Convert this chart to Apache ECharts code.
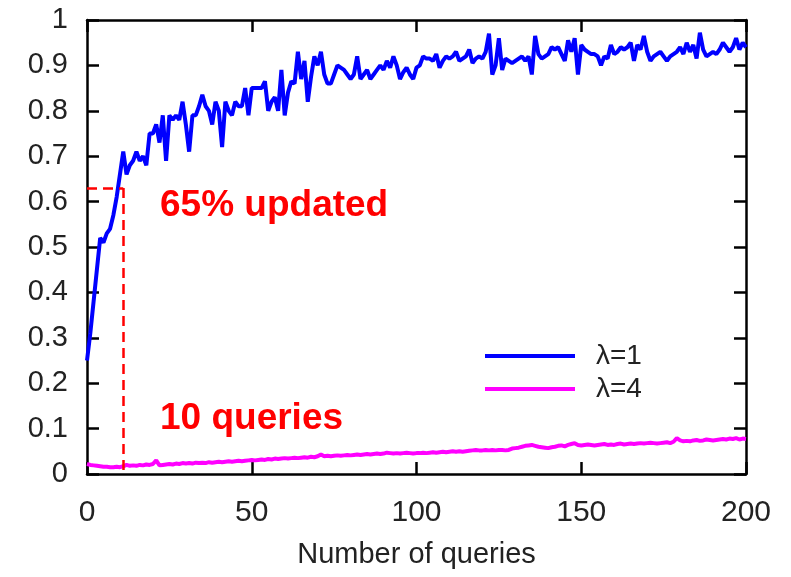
<!DOCTYPE html>
<html>
<head>
<meta charset="utf-8">
<script src="https://cdn.jsdelivr.net/npm/echarts@6/dist/echarts.min.js"></script>
<style>
  html, body { margin: 0; padding: 0; background: #fff; }
  #chart { width: 791px; height: 577px; }
</style>
</head>
<body>
<div id="chart"></div>
<script>
// fraction updated vs number of queries, one value per query 0..200
const lambda1 = [
  0.25, 0.31, 0.38, 0.45, 0.52, 0.51, 0.53, 0.54, 0.57, 0.61,
  0.66, 0.71, 0.66, 0.68, 0.69, 0.71, 0.69, 0.70, 0.68, 0.75,
  0.75, 0.77, 0.73, 0.79, 0.69, 0.79, 0.78, 0.79, 0.78, 0.82,
  0.77, 0.71, 0.79, 0.79, 0.81, 0.835, 0.81, 0.80, 0.77, 0.82,
  0.80, 0.72, 0.82, 0.80, 0.79, 0.82, 0.81, 0.81, 0.85, 0.79,
  0.85, 0.85, 0.85, 0.85, 0.865, 0.80, 0.82, 0.83, 0.80, 0.89,
  0.79, 0.84, 0.865, 0.86, 0.93, 0.87, 0.91, 0.82, 0.875, 0.92,
  0.90, 0.93, 0.88, 0.86, 0.86, 0.88, 0.90, 0.895, 0.89, 0.88,
  0.87, 0.88, 0.92, 0.87, 0.88, 0.89, 0.87, 0.88, 0.89, 0.90,
  0.89, 0.91, 0.895, 0.92, 0.90, 0.87, 0.885, 0.895, 0.88, 0.87,
  0.895, 0.90, 0.92, 0.915, 0.915, 0.91, 0.925, 0.895, 0.91, 0.92,
  0.915, 0.92, 0.93, 0.91, 0.915, 0.92, 0.935, 0.905, 0.915, 0.92,
  0.915, 0.93, 0.97, 0.88, 0.90, 0.96, 0.89, 0.915, 0.91, 0.905,
  0.91, 0.915, 0.92, 0.91, 0.92, 0.88, 0.965, 0.925, 0.915, 0.92,
  0.925, 0.94, 0.935, 0.94, 0.925, 0.91, 0.955, 0.93, 0.96, 0.88,
  0.945, 0.935, 0.93, 0.925, 0.925, 0.92, 0.90, 0.92, 0.915, 0.945,
  0.925, 0.93, 0.94, 0.935, 0.94, 0.95, 0.91, 0.945, 0.935, 0.965,
  0.93, 0.91, 0.92, 0.925, 0.93, 0.92, 0.91, 0.92, 0.925, 0.93,
  0.94, 0.925, 0.95, 0.93, 0.945, 0.915, 0.972, 0.935, 0.92, 0.925,
  0.93, 0.925, 0.935, 0.95, 0.94, 0.93, 0.94, 0.96, 0.935, 0.95,
  0.94
];
const lambda4 = [
  0.022, 0.020, 0.019, 0.018, 0.017, 0.016, 0.016, 0.015, 0.015, 0.016,
  0.015, 0.017, 0.020, 0.018, 0.019, 0.018, 0.020, 0.019, 0.021, 0.020,
  0.022, 0.030, 0.019, 0.020, 0.021, 0.022, 0.021, 0.023, 0.022, 0.024,
  0.023, 0.024, 0.023, 0.025, 0.024, 0.025, 0.024, 0.026, 0.025, 0.026,
  0.027, 0.026, 0.027, 0.028, 0.027, 0.028, 0.029, 0.028, 0.029, 0.030,
  0.031, 0.030, 0.031, 0.032, 0.031, 0.033, 0.032, 0.034, 0.033, 0.034,
  0.035, 0.034, 0.035, 0.036, 0.035, 0.036, 0.037, 0.036, 0.038, 0.037,
  0.039, 0.043, 0.039, 0.040, 0.039, 0.040, 0.041, 0.040, 0.041, 0.042,
  0.041, 0.042, 0.043, 0.042, 0.043, 0.044, 0.043, 0.044, 0.045, 0.044,
  0.045, 0.047, 0.046, 0.045, 0.046, 0.045, 0.046, 0.047, 0.046, 0.045,
  0.046, 0.046, 0.047, 0.046, 0.047, 0.048, 0.047, 0.048, 0.049, 0.048,
  0.049, 0.050, 0.049, 0.050, 0.049, 0.050, 0.051, 0.052, 0.053, 0.052,
  0.052, 0.053, 0.052, 0.053, 0.052, 0.053, 0.053, 0.052, 0.053, 0.056,
  0.057, 0.058, 0.060, 0.062, 0.063, 0.064, 0.062, 0.060, 0.059, 0.058,
  0.057, 0.059, 0.060, 0.062, 0.063, 0.061, 0.064, 0.066, 0.068, 0.064,
  0.063, 0.064, 0.065, 0.064, 0.063, 0.064, 0.065, 0.066, 0.064, 0.065,
  0.064, 0.066, 0.067, 0.065, 0.066, 0.067, 0.066, 0.067, 0.068, 0.067,
  0.068, 0.069, 0.068, 0.067, 0.068, 0.069, 0.070, 0.068, 0.071, 0.079,
  0.074, 0.072, 0.073, 0.072, 0.074, 0.075, 0.073, 0.074, 0.076, 0.075,
  0.074, 0.075, 0.076, 0.077, 0.076, 0.078, 0.077, 0.079, 0.076, 0.078,
  0.077
];
const seriesNames = ['λ=1', 'λ=4'];
// red dashed guide: 65% updated after about 10 queries
const markQuery = 11;
const markRate = 0.63;

const font = 'Liberation Sans, Arial, sans-serif';
const chart = echarts.init(document.getElementById('chart'));

const toPairs = (arr) => arr.map((v, i) => [i, v]);

const axisLine = { show: true, onZero: false, lineStyle: { color: '#000', width: 2.5 } };
const axisTick = { show: true, inside: true, length: 12, lineStyle: { color: '#000', width: 2.5 } };

const option = {
  animation: false,
  backgroundColor: '#fff',
  grid: { left: 87, right: 45, top: 20, bottom: 103 },
  legend: {
    orient: 'vertical',
    left: 480,
    top: 336,
    itemWidth: 90,
    itemHeight: 4,
    itemGap: 3,
    icon: 'rect',
    textStyle: { fontFamily: font, fontSize: 28, lineHeight: 30, color: '#222', padding: [0, 0, 0, 16] },
    data: seriesNames
  },
  xAxis: [
    {
      type: 'value', min: 0, max: 200, interval: 50,
      axisLine: axisLine, axisTick: axisTick,
      splitLine: { show: false },
      axisLabel: { fontFamily: font, fontSize: 30, color: '#222', margin: 24 },
      name: 'Number of queries', nameLocation: 'middle', nameGap: 66,
      nameTextStyle: { fontFamily: font, fontSize: 29, color: '#222' }
    },
    {
      type: 'value', position: 'top', min: 0, max: 200, interval: 50,
      axisLine: axisLine, axisTick: axisTick,
      splitLine: { show: false }, axisLabel: { show: false }
    }
  ],
  yAxis: [
    {
      type: 'value', min: 0, max: 1, interval: 0.1,
      axisLine: axisLine, axisTick: axisTick,
      splitLine: { show: false },
      axisLabel: { fontFamily: font, fontSize: 29, color: '#222', margin: 19 }
    },
    {
      type: 'value', position: 'right', min: 0, max: 1, interval: 0.1,
      axisLine: axisLine, axisTick: axisTick,
      splitLine: { show: false }, axisLabel: { show: false }
    }
  ],
  series: [
    {
      name: seriesNames[0],
      type: 'line',
      symbol: 'none',
      data: toPairs(lambda1),
      lineStyle: { color: '#0000ff', width: 4 },
      itemStyle: { color: '#0000ff' },
      z: 3,
      markLine: {
        silent: true,
        symbol: 'none',
        label: { show: false },
        lineStyle: { color: '#ff0000', width: 2.5, type: [10, 6] },
        data: [
          [{ coord: [0, markRate] }, { coord: [markQuery, markRate] }],
          [{ coord: [markQuery, markRate] }, { coord: [markQuery, 0] }]
        ]
      }
    },
    {
      name: seriesNames[1],
      type: 'line',
      symbol: 'none',
      data: toPairs(lambda4),
      lineStyle: { color: '#ff00ff', width: 4 },
      itemStyle: { color: '#ff00ff' },
      z: 3
    }
  ],
  graphic: [
    {
      type: 'text', left: 160, top: 187,
      style: { text: '65% updated', fill: '#ff0000', font: 'bold 37px ' + font }
    },
    {
      type: 'text', left: 160, top: 400,
      style: { text: '10 queries', fill: '#ff0000', font: 'bold 37px ' + font }
    }
  ]
};

chart.setOption(option);
</script>
</body>
</html>
